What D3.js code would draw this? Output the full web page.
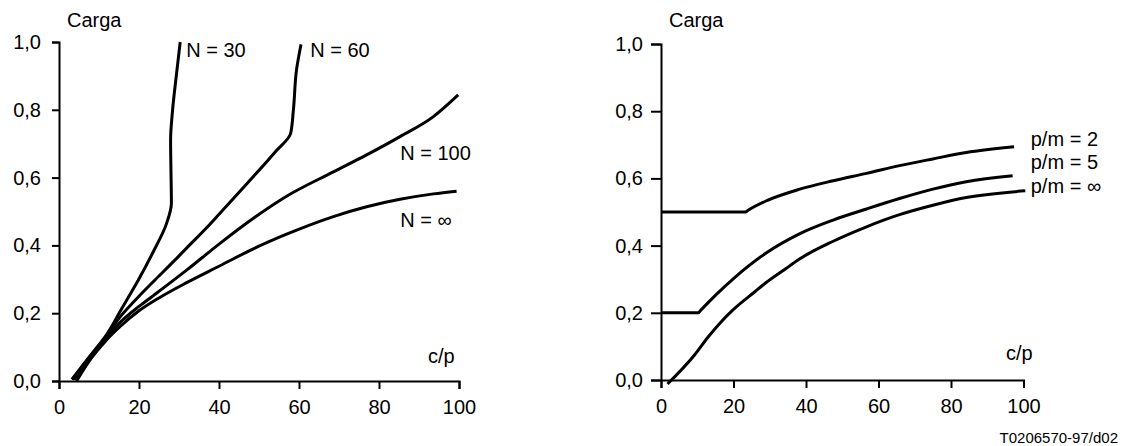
<!DOCTYPE html>
<html>
<head>
<meta charset="utf-8">
<script src="https://cdn.jsdelivr.net/npm/d3@7"></script>
<style>
    body { margin: 0; background: #fff; }
    svg text { font-family: "Liberation Sans", Arial, sans-serif; fill: #000; }
    .axis path, .axis line { stroke: #000; stroke-width: 2; }
    .axis text { font-size: 20px; }
    .curve { fill: none; stroke: #000; stroke-width: 3; stroke-linejoin: round; stroke-linecap: butt; }
</style>
</head>
<body>
<svg id="chart"></svg>
<script>
var xTicks = [0, 20, 40, 60, 80, 100];
var yTicks = [0, 0.2, 0.4, 0.6, 0.8, 1.0];
var yTickLabels = ['0,0', '0,2', '0,4', '0,6', '0,8', '1,0'];

// left panel: load vs c/p for several N
var nLabels = ['N = 30', 'N = 60', 'N = 100', 'N = \u221e'];
var nLabelPos = [[31.8, 0.957], [62.8, 0.957], [85.3, 0.652], [85.3, 0.455]];
var n30 = [[3.2, 0.005], [7.5, 0.07], [11.5, 0.13], [15.7, 0.214], [19.8, 0.297], [23.6, 0.382], [26.9, 0.465],
    [28.1, 0.524], [28, 0.613], [27.9, 0.711], [28.4, 0.8], [29.3, 0.898], [30.3, 1.0]];
var n60 = [[3.4, 0.004], [7.5, 0.068], [11.5, 0.127], [15.7, 0.195], [20, 0.25], [24, 0.298], [28.6, 0.352],
    [31.9, 0.392], [36.9, 0.452], [40.25, 0.495], [48.6, 0.603], [54, 0.675], [57.9, 0.73],
    [58.6, 0.8], [59.4, 0.92], [60.5, 0.993]];
var n100 = [[3.8, 0.003], [7.5, 0.063], [11.5, 0.122], [15.5, 0.175], [20, 0.22], [23.6, 0.252], [31.9, 0.327],
    [40.25, 0.406], [48.6, 0.48], [56.9, 0.545], [68.6, 0.617], [76.9, 0.667], [85.25, 0.721],
    [93.6, 0.78], [99.8, 0.844]];
var nInf = [[4.4, 0], [7.5, 0.058], [11.5, 0.116], [15.5, 0.163], [20, 0.207], [25, 0.245], [31.9, 0.29],
    [40.25, 0.34], [48.6, 0.39], [56.9, 0.433], [68.6, 0.485], [76.9, 0.514], [85.25, 0.536],
    [93.6, 0.552], [99.4, 0.56]];

// right panel: load vs c/p for several p/m
var pmLabels = ['p/m = 2', 'p/m = 5', 'p/m = \u221e'];
var pmLabelPos = [[102, 0.697], [102, 0.628], [102, 0.558]];
var pm2 = [[0, 0.5], [23.3, 0.5], [24, 0.505], [29.2, 0.534], [38.3, 0.568], [47.5, 0.593], [56.7, 0.615],
    [65.8, 0.638], [75, 0.658], [84.2, 0.677], [97.4, 0.694]];
var pm5 = [[0, 0.2], [10.3, 0.2], [11, 0.208], [15, 0.252], [20, 0.302], [29, 0.378], [38.2, 0.435],
    [47.5, 0.476], [56.7, 0.509], [65.8, 0.54], [75, 0.568], [84.2, 0.59], [97, 0.608]];
var pmInf = [[1.8, -0.012], [9.3, 0.075], [13, 0.128], [16.5, 0.172], [20, 0.21], [25.8, 0.262],
    [29, 0.29], [34, 0.328], [38.2, 0.36], [47.5, 0.413], [56.7, 0.456], [65.8, 0.492],
    [75, 0.52], [84.2, 0.543], [100.5, 0.563]];

var width = 1125;
var height = 446;

var svg = d3.select('#chart')
    .attr('width', width)
    .attr('height', height);

function drawPanel(p) {
    var x = d3.scaleLinear().domain([0, 100]).range([p.left, p.right]);
    var y = d3.scaleLinear().domain([0, 1]).range([p.bottom, p.top]);
    var g = svg.append('g');

    g.append('g')
        .attr('class', 'axis')
        .attr('transform', 'translate(0,' + p.bottom + ')')
        .call(d3.axisBottom(x).tickValues(xTicks).tickSizeOuter(0)
            .tickSize(8).tickPadding(11));

    g.append('g')
        .attr('class', 'axis')
        .attr('transform', 'translate(' + p.left + ',0)')
        .call(d3.axisLeft(y).tickValues(yTicks).tickSizeOuter(0)
            .tickSize(p.yTickSize).tickPadding(p.yTickPad)
            .tickFormat(function (d, i) { return yTickLabels[i]; }));

    // curves whose x turns back are drawn as x(y)
    var lineX = d3.line()
        .x(function (d) { return x(d[0]); })
        .y(function (d) { return y(d[1]); })
        .curve(d3.curveMonotoneX);
    var lineY = d3.line()
        .x(function (d) { return x(d[0]); })
        .y(function (d) { return y(d[1]); })
        .curve(d3.curveMonotoneY);

    g.selectAll('path.curve')
        .data(p.series)
        .enter()
        .append('path')
        .attr('class', 'curve')
        .attr('d', function (d, i) {
            return p.steep[i] ? lineY(d) : lineX(d);
        });

    g.selectAll('text.series-label')
        .data(p.labels)
        .enter()
        .append('text')
        .attr('class', 'series-label')
        .attr('x', function (d, i) { return x(p.labelPos[i][0]); })
        .attr('y', function (d, i) { return y(p.labelPos[i][1]); })
        .style('font-size', '20px')
        .text(function (d) { return d; });

    g.append('text')
        .attr('x', p.left + 8)
        .attr('y', 27)
        .style('font-size', '20px')
        .text('Carga');

    g.append('text')
        .attr('x', p.cpX)
        .attr('y', p.cpY)
        .style('font-size', '20px')
        .text('c/p');
}

drawPanel({
    left: 59, right: 459, top: 42, bottom: 381,
    yTickSize: 7, yTickPad: 11,
    series: [n30, n60, n100, nInf],
    steep: [true, true, false, false],
    labels: nLabels, labelPos: nLabelPos,
    cpX: 428, cpY: 363
});

drawPanel({
    left: 661, right: 1023.5, top: 44, bottom: 380,
    yTickSize: 10, yTickPad: 8,
    series: [pm2, pm5, pmInf],
    steep: [false, false, false],
    labels: pmLabels, labelPos: pmLabelPos,
    cpX: 1006, cpY: 360
});

svg.append('text')
    .attr('x', 1118)
    .attr('y', 443)
    .attr('text-anchor', 'end')
    .style('font-size', '15px')
    .text('T0206570-97/d02');
</script>
</body>
</html>
